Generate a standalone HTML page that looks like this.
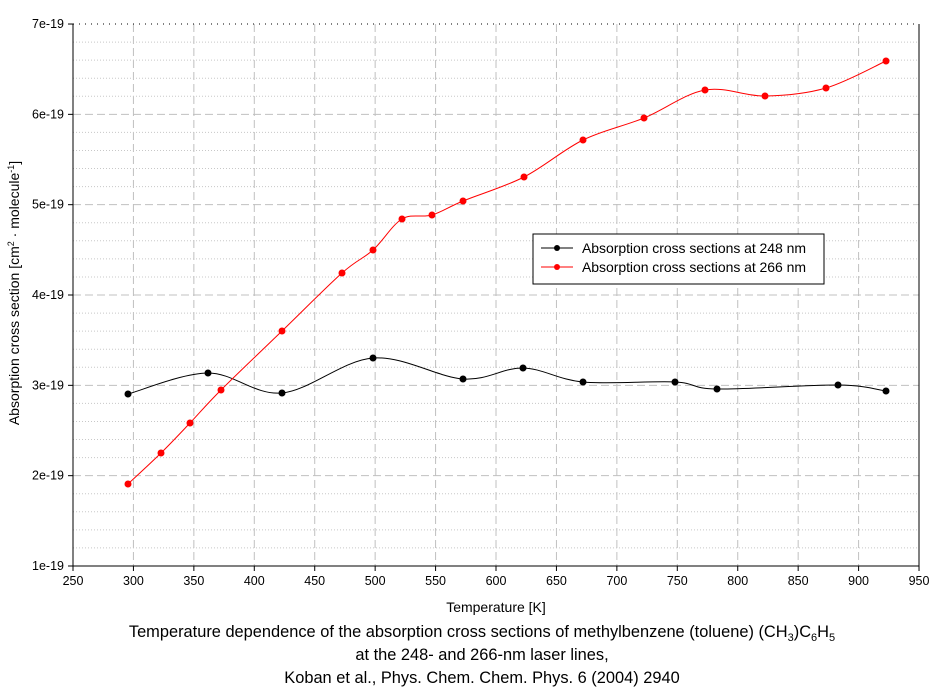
<!DOCTYPE html>
<html><head><meta charset="utf-8"><style>
body{margin:0;background:#fff;width:944px;height:690px;overflow:hidden}
svg text{font-family:"Liberation Sans",Arial,sans-serif;fill:#000}
</style></head><body>
<svg id="s" width="944" height="690" xmlns="http://www.w3.org/2000/svg">
<g id="grid"></g>
<line x1="73" y1="24" x2="919" y2="24" stroke="#000" stroke-dasharray="1,5"/>
<line x1="73" y1="24" x2="73" y2="566" stroke="#000"/>
<line x1="73" y1="566" x2="919" y2="566" stroke="#000"/>
<line x1="919" y1="24" x2="919" y2="566" stroke="#000"/>
<g id="ticks" font-size="12.5"></g>
<path id="pb" fill="none" stroke="#000" stroke-width="1"/>
<path id="pr" fill="none" stroke="#f00" stroke-width="1"/>
<g id="mk"></g>
<rect x="533" y="234" width="291" height="50" fill="#fff" stroke="#000"/>
<line x1="541" y1="248" x2="573" y2="248" stroke="#000"/><circle cx="557" cy="248" r="3" fill="#000"/>
<line x1="541" y1="267" x2="573" y2="267" stroke="#f00"/><circle cx="557" cy="267" r="3" fill="#f00"/>
<text x="582" y="253" font-size="14" textLength="224">Absorption cross sections at 248 nm</text>
<text x="582" y="272" font-size="14" textLength="224">Absorption cross sections at 266 nm</text>
<text x="496" y="612" font-size="14" text-anchor="middle">Temperature [K]</text>
<text transform="translate(19,293) rotate(-90)" font-size="14" text-anchor="middle">Absorption cross section [cm<tspan font-size="9" dy="-5">2</tspan><tspan dy="5"> · molecule</tspan><tspan font-size="9" dy="-5">-1</tspan><tspan dy="5">]</tspan></text>
<text x="482" y="637" font-size="16.4" text-anchor="middle">Temperature dependence of the absorption cross sections of methylbenzene (toluene) (CH<tspan font-size="11" dy="4">3</tspan><tspan dy="-4">)C</tspan><tspan font-size="11" dy="4">6</tspan><tspan dy="-4">H</tspan><tspan font-size="11" dy="4">5</tspan></text>
<text x="482" y="660" font-size="16.4" text-anchor="middle">at the 248- and 266-nm laser lines,</text>
<text x="482" y="683" font-size="16.4" text-anchor="middle">Koban et al., Phys. Chem. Chem. Phys. 6 (2004) 2940</text>
</svg>
<script>
var NS="http://www.w3.org/2000/svg";
function el(p,t,a){var e=document.createElementNS(NS,t);for(var k in a)e.setAttribute(k,a[k]);p.appendChild(e);return e;}
var g=document.getElementById('grid'),tk=document.getElementById('ticks');
function X(v){return 73+(v-250)*1.2086;}
function Y(v){return 566-(v-1)*90.33;}
for(var v=250;v<=950;v+=50){var x=X(v);
 if(v>250&&v<950)el(g,'line',{x1:x,y1:24,x2:x,y2:566,stroke:'#c0c0c0','stroke-dasharray':'8,4'});
 el(tk,'line',{x1:x,y1:566,x2:x,y2:571,stroke:'#000'});
 var t=el(tk,'text',{x:x,y:585,'text-anchor':'middle'});t.textContent=v;}
for(var i=1;i<=7;i++){var y=Y(i);
 if(i>1&&i<7)el(g,'line',{x1:73,y1:y,x2:919,y2:y,stroke:'#c0c0c0','stroke-dasharray':'8,4'});
 el(tk,'line',{x1:68,y1:y,x2:73,y2:y,stroke:'#000'});
 var t=el(tk,'text',{x:64,y:y+4,'text-anchor':'end'});t.textContent=i+'e-19';
 if(i<7)for(var j=1;j<5;j++){var yy=y-j*90.33/5;el(g,'line',{x1:73,y1:yy,x2:919,y2:yy,stroke:'#c8c8c8','stroke-dasharray':'1,2'});}}
var B=[[128,394],[208,373],[282,393],[373,358],[463,379],[523,368],[583,382],[675,382],[717,389],[838,385],[886,391]];
var R=[[128,484],[161,453],[190,423],[221,390],[282,331],[342,273],[373,250],[402,219],[432,215],[463,201],[524,177],[583,140],[644,118],[705,90],[765,96],[826,88],[886,61]];
function cr(P){var d='M'+P[0];for(var i=0;i<P.length-1;i++){var p0=P[i-1]||P[i],p1=P[i],p2=P[i+1],p3=P[i+2]||p2;
 var c1=[p1[0]+(p2[0]-p0[0])/6,p1[1]+(p2[1]-p0[1])/6],c2=[p2[0]-(p3[0]-p1[0])/6,p2[1]-(p3[1]-p1[1])/6];
 d+=' C'+c1+' '+c2+' '+p2;}return d;}
document.getElementById('pb').setAttribute('d',cr(B));
document.getElementById('pr').setAttribute('d',cr(R));
var mk=document.getElementById('mk');
B.forEach(function(p){el(mk,'circle',{cx:p[0],cy:p[1],r:3.5,fill:'#000'});});
R.forEach(function(p){el(mk,'circle',{cx:p[0],cy:p[1],r:3.5,fill:'#f00'});});
</script>
</body></html>
